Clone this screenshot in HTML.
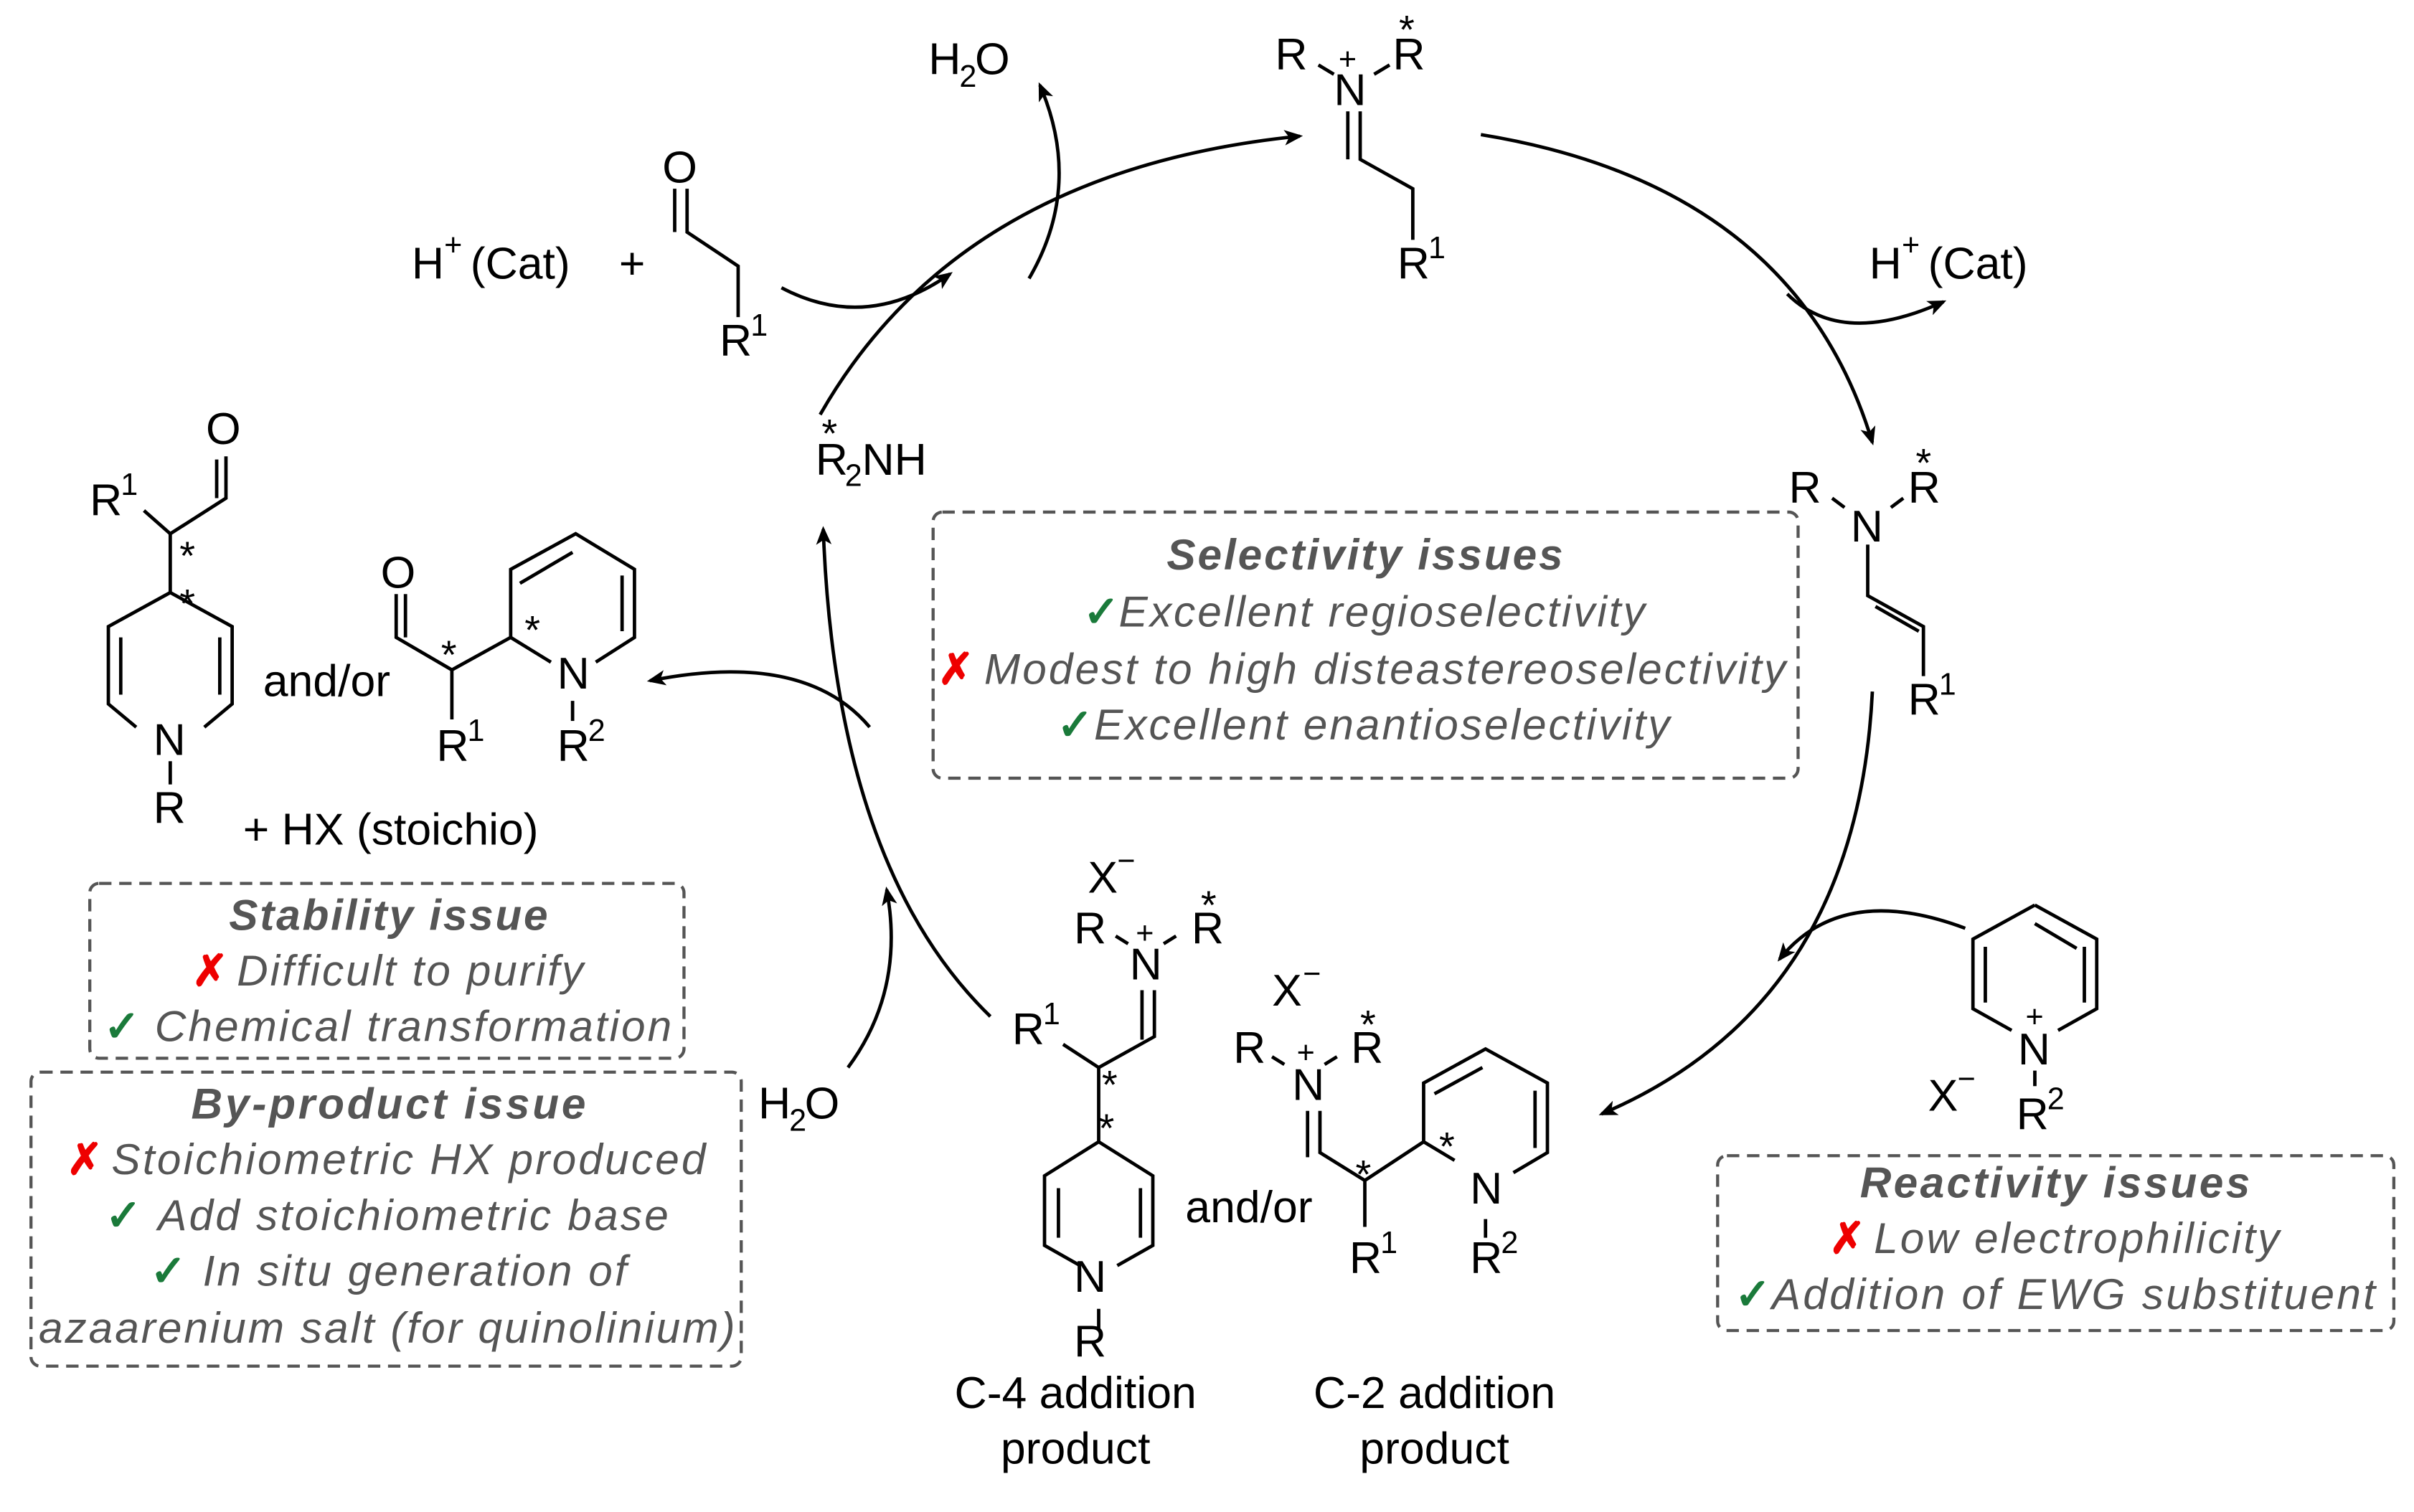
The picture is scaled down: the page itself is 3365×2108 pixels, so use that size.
<!DOCTYPE html>
<html><head><meta charset="utf-8"><style>
html,body{margin:0;padding:0;background:#fff}
svg{display:block}
text{font-family:"Liberation Sans",sans-serif;fill:#000}
.l{font-size:29px}
.s{font-size:20px}
.a{font-size:26px}
.t{font-size:28px;font-weight:bold;font-style:italic;fill:#555}
.i{font-size:28px;font-style:italic;fill:#555}
.ck{fill:#1a7a3a;font-size:28px;font-weight:bold}
.x{fill:#e00;font-size:28px;font-weight:bold}
</style></head><body>
<svg width="3365" height="2108" viewBox="0 0 1560 977.3" xmlns="http://www.w3.org/2000/svg">
<defs><marker id="a" markerWidth="12" markerHeight="10" refX="10" refY="5" orient="auto" markerUnits="userSpaceOnUse"><path d="M0,0 L12,5 L0,10 L3,5z" fill="#000"/></marker></defs>
<g fill="none" stroke="#000" stroke-width="2.2">
<path d="M530,268 Q620,110 840,88" marker-end="url(#a)"/>
<path d="M957,87 Q1160,120 1210,286" marker-end="url(#a)"/>
<path d="M1210,447 Q1200,650 1035,720" marker-end="url(#a)"/>
<path d="M640,657 Q540,560 532,342" marker-end="url(#a)"/>
<path d="M505,186 Q560,215 614,177" marker-end="url(#a)"/>
<path d="M665,180 Q700,120 672,55" marker-end="url(#a)"/>
<path d="M1155,190 Q1190,225 1256,195" marker-end="url(#a)"/>
<path d="M1270,600 Q1190,570 1150,620" marker-end="url(#a)"/>
<path d="M548,690 Q585,640 573,575" marker-end="url(#a)"/>
<path d="M562,470 Q520,420 420,440" marker-end="url(#a)"/>
<path d="M852,42 L862,48 M888,48 L898,42 M871,72 L871,103 M879,72 L879,103 L913,122 L913,155"/>
<path d="M436,122 L436,150 M444,122 L444,150 L477,172 L477,205"/>
<path d="M1184,322 L1192,328 M1222,328 L1230,322 M1207,352 L1207,385 L1243,405 L1243,437 M1212,392 L1240,408"/>
<path d="M93,330 L110,345 L146,322 L146,295 M140,322 L140,297 M110,345 L110,383 L150,405 L150,455 L132,470 M110,383 L70,405 L70,455 L88,470 M78,412 L78,449 M142,412 L142,449 M110,492 L110,507"/>
<path d="M256,384 L256,412 L292,433 L330,412 L356,428 M262,384 L262,412 M292,433 L292,465 M330,412 L330,368 L372,345 L410,368 L410,412 L385,428 M336,377 L370,357 M402,372 L402,408 M370,453 L370,466"/>
<path d="M721,605 L729,610 M752,610 L760,605 M738,640 L738,672 M746,640 L746,670 L710,690 L687,675 M710,690 L710,738 L745,760 L745,805 L722,818 M710,738 L675,760 L675,805 L698,818 M684,768 L684,800 M737,768 L737,800 M710,846 L710,860"/>
<path d="M822,683 L830,688 M856,688 L864,683 M845,718 L845,748 M853,718 L853,745 L882,763 L920,738 L940,750 M882,763 L882,793 M920,738 L920,700 L960,678 L1000,700 L1000,745 L978,758 M927,707 L958,690 M992,705 L992,742 M960,788 L960,800"/>
<path d="M1315,585 L1355,607 L1355,652 L1330,666 M1315,585 L1275,607 L1275,652 L1300,666 M1283,612 L1283,648 M1347,612 L1347,648 M1315,597 L1342,613 M1315,692 L1315,702"/>
</g>
<g stroke="#555" stroke-width="2" stroke-dasharray="8,5" fill="none">
<rect x="603" y="331" width="559" height="172" rx="6"/>
<rect x="58" y="571" width="384" height="113" rx="6"/>
<rect x="20" y="693" width="459" height="190" rx="6"/>
<rect x="1110" y="747" width="437" height="113" rx="6"/>
</g>
<text class="l" x="824" y="45">R</text><text class="l" x="862" y="68">N</text><text class="s" x="865" y="45">+</text><text class="l" x="900" y="45">R</text><text class="a" x="904" y="28">*</text>
<text class="l" x="903" y="180">R</text><text class="s" x="923" y="167">1</text>
<text class="l" x="600" y="48">H</text><text class="s" x="620" y="56">2</text><text class="l" x="630" y="48">O</text>
<text class="l" x="266" y="180">H</text><text class="s" x="287" y="165">+</text><text class="l" x="304" y="180">(Cat)</text><text class="l" x="400" y="180">+</text>
<text class="l" x="428" y="118">O</text><text class="l" x="465" y="230">R</text><text class="s" x="485" y="217">1</text>
<text class="l" x="1208" y="180">H</text><text class="s" x="1229" y="165">+</text><text class="l" x="1246" y="180">(Cat)</text>
<text class="a" x="531" y="289">*</text><text class="l" x="527" y="307">R</text><text class="s" x="546" y="314">2</text><text class="l" x="557" y="307">NH</text>
<text class="l" x="1156" y="325">R</text><text class="l" x="1196" y="350">N</text><text class="l" x="1233" y="325">R</text><text class="a" x="1238" y="308">*</text>
<text class="l" x="1233" y="462">R</text><text class="s" x="1253" y="449">1</text>
<text class="l" x="133" y="287">O</text><text class="l" x="58" y="333">R</text><text class="s" x="78" y="320">1</text><text class="a" x="116" y="368">*</text><text class="a" x="116" y="399">*</text>
<text class="l" x="99" y="488">N</text><text class="l" x="99" y="532">R</text>
<text class="l" x="170" y="450">and/or</text>
<text class="l" x="246" y="380">O</text><text class="a" x="285" y="432">*</text><text class="a" x="339" y="416">*</text>
<text class="l" x="360" y="445">N</text><text class="l" x="282" y="492">R</text><text class="s" x="302" y="479">1</text><text class="l" x="360" y="492">R</text><text class="s" x="380" y="479">2</text>
<text class="l" x="157" y="546">+ HX (stoichio)</text>
<text class="l" x="703" y="577">X</text><text class="s" x="722" y="563">−</text>
<text class="l" x="694" y="610">R</text><text class="l" x="730" y="633">N</text><text class="s" x="734" y="610">+</text><text class="l" x="770" y="610">R</text><text class="a" x="776" y="594">*</text>
<text class="l" x="654" y="675">R</text><text class="s" x="674" y="662">1</text><text class="a" x="712" y="710">*</text><text class="a" x="710" y="738">*</text>
<text class="l" x="694" y="835">N</text><text class="l" x="694" y="877">R</text>
<text class="l" x="766" y="790">and/or</text>
<text class="l" x="822" y="650">X</text><text class="s" x="842" y="636">−</text>
<text class="l" x="797" y="687">R</text><text class="l" x="835" y="711">N</text><text class="s" x="838" y="687">+</text><text class="l" x="873" y="687">R</text><text class="a" x="879" y="671">*</text>
<text class="a" x="876" y="768">*</text><text class="a" x="930" y="750">*</text>
<text class="l" x="950" y="778">N</text><text class="l" x="872" y="823">R</text><text class="s" x="892" y="810">1</text><text class="l" x="950" y="823">R</text><text class="s" x="970" y="810">2</text>
<text class="l" x="1304" y="688">N</text><text class="s" x="1309" y="664">+</text><text class="l" x="1303" y="730">R</text><text class="s" x="1323" y="717">2</text>
<text class="l" x="1246" y="718">X</text><text class="s" x="1265" y="704">−</text>
<text class="l" x="490" y="723">H</text><text class="s" x="510" y="731">2</text><text class="l" x="520" y="723">O</text>
<text class="l" x="695" y="910" text-anchor="middle">C-4 addition</text><text class="l" x="695" y="946" text-anchor="middle">product</text>
<text class="l" x="927" y="910" text-anchor="middle">C-2 addition</text><text class="l" x="927" y="946" text-anchor="middle">product</text>
<text class="t" x="882" y="368" text-anchor="middle" textLength="256">Selectivity issues</text>
<text class="ck" x="700" y="405">✓</text><text class="i" x="723" y="405" textLength="340">Excellent regioselectivity</text>
<text class="x" x="606" y="442">✗</text><text class="i" x="636" y="442" textLength="518">Modest to high disteastereoselectivity</text>
<text class="ck" x="683" y="478">✓</text><text class="i" x="707" y="478" textLength="372">Excellent enantioselectivity</text>
<text class="t" x="251" y="601" text-anchor="middle" textLength="206">Stability issue</text>
<text class="x" x="124" y="637">✗</text><text class="i" x="153" y="637" textLength="224">Difficult to purify</text>
<text class="ck" x="67" y="673">✓</text><text class="i" x="100" y="673" textLength="334">Chemical transformation</text>
<text class="t" x="251" y="723" text-anchor="middle" textLength="255">By-product issue</text>
<text class="x" x="43" y="759">✗</text><text class="i" x="72" y="759" textLength="384">Stoichiometric HX produced</text>
<text class="ck" x="68" y="795">✓</text><text class="i" x="102" y="795" textLength="330">Add stoichiometric base</text>
<text class="ck" x="97" y="831">✓</text><text class="i" x="131" y="831" textLength="274">In situ generation of</text>
<text class="i" x="25" y="868" textLength="450">azaarenium salt (for quinolinium)</text>
<text class="t" x="1328" y="774" text-anchor="middle" textLength="252">Reactivity issues</text>
<text class="x" x="1182" y="810">✗</text><text class="i" x="1211" y="810" textLength="262">Low electrophilicity</text>
<text class="ck" x="1121" y="846">✓</text><text class="i" x="1145" y="846" textLength="390">Addition of EWG substituent</text>
</svg>
</body></html>
